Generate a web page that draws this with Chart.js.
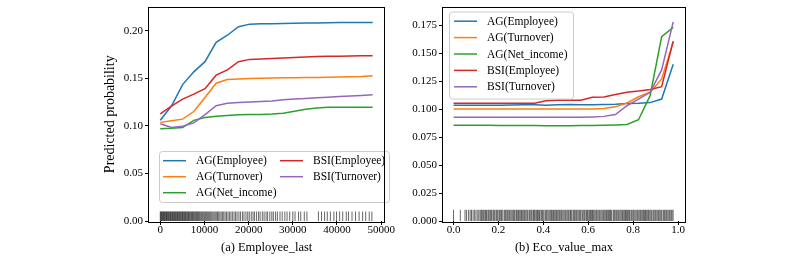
<!DOCTYPE html>
<html><head><meta charset="utf-8">
<script src="https://cdn.jsdelivr.net/npm/chart.js@4"></script>
<style>
html,body{margin:0;padding:0;background:#fff;width:789px;height:258px;overflow:hidden}
canvas{position:absolute;top:0}
#a{left:0}
#b{left:395px}
</style></head><body>
<canvas id="a" width="395" height="258"></canvas>
<canvas id="b" width="394" height="258"></canvas>
<script>
// ---------- Panel (a): Employee_last ----------
const empGrid = [0, 2530, 5060, 7590, 10120, 12650, 15180, 17710, 20240, 22770, 25300, 27830, 30360, 32890, 35420, 37950, 40480, 43010, 45540, 48070];
const empAGEmployee  = [0.106, 0.121, 0.1436, 0.157, 0.1677, 0.188, 0.1955, 0.2045, 0.2072, 0.2075, 0.2076, 0.2078, 0.208, 0.2083, 0.2085, 0.2087, 0.2088, 0.2089, 0.209, 0.209];
const empAGTurnover  = [0.1038, 0.1055, 0.1072, 0.1152, 0.130, 0.145, 0.149, 0.1495, 0.150, 0.1502, 0.1505, 0.1507, 0.1508, 0.151, 0.151, 0.1512, 0.1515, 0.1518, 0.1522, 0.1529];
const empAGNetIncome = [0.097, 0.0975, 0.0983, 0.1059, 0.109, 0.1102, 0.111, 0.1117, 0.112, 0.1122, 0.1127, 0.1135, 0.1155, 0.1175, 0.119, 0.1196, 0.1197, 0.1197, 0.1197, 0.1197];
const empBSIEmployee = [0.1127, 0.121, 0.1282, 0.1335, 0.1392, 0.1535, 0.159, 0.1677, 0.1701, 0.1705, 0.171, 0.1715, 0.172, 0.1725, 0.173, 0.1733, 0.1735, 0.1737, 0.1738, 0.1739];
const empBSITurnover = [0.1024, 0.0985, 0.0998, 0.1033, 0.112, 0.1213, 0.124, 0.1248, 0.1253, 0.1258, 0.1263, 0.1275, 0.1283, 0.129, 0.1296, 0.1303, 0.131, 0.1316, 0.1322, 0.133];
const empRug = [0, 120, 260, 410, 540, 700, 830, 980, 1130, 1290, 1420, 1580, 1720, 1890, 2030, 2190, 2340, 2480, 2650, 2800, 2960, 3110, 3270, 3420, 3580, 3740, 3890, 4060, 4220, 4380, 4530, 4700, 4870, 5030, 5190, 5360, 5520, 5700, 5860, 6040, 6210, 6390, 6560, 6740, 6920, 7100, 7290, 7470, 7660, 7850, 8030, 8230, 8420, 8620, 8820, 9010, 9230, 9430, 9640, 9860, 10080, 10290, 10520, 10740, 10970, 11200, 11430, 11680, 11920, 12170, 12430, 12680, 12950, 13220, 13500, 13780, 14070, 14370, 14680, 15000, 15330, 15640, 15990, 16320, 16700, 17050, 17380, 17800, 18150, 18600, 18950, 19400, 19800, 20150, 20600, 21000, 21350, 21800, 22250, 22600, 23100, 23500, 23950, 24300, 24800, 25250, 25600, 26100, 26500, 27100, 27600, 28200, 28700, 29300, 30000, 30500, 31300, 31800, 32600, 33200, 35800, 36500, 37200, 37800, 38500, 39300, 39900, 40600, 41300, 42100, 42600, 43400, 44200, 45000, 45800, 46500, 47300, 47900];
const empXTicks = [0, 10000, 20000, 30000, 40000, 50000];
const empYTicks = [0, 0.05, 0.10, 0.15, 0.20];

// ---------- Panel (b): Eco_value_max ----------
const ecoGrid = [0, 0.0515, 0.103, 0.1545, 0.206, 0.2575, 0.309, 0.3605, 0.412, 0.4635, 0.515, 0.5665, 0.618, 0.6695, 0.721, 0.7725, 0.824, 0.8755, 0.927, 0.9785];
const ecoAGEmployee  = [0.1035, 0.1035, 0.1035, 0.1035, 0.1035, 0.1036, 0.1038, 0.104, 0.1035, 0.1038, 0.1042, 0.104, 0.1038, 0.1042, 0.1044, 0.105, 0.1052, 0.1058, 0.109, 0.140];
const ecoAGTurnover  = [0.100, 0.100, 0.100, 0.100, 0.100, 0.100, 0.100, 0.100, 0.100, 0.100, 0.100, 0.1, 0.1002, 0.1005, 0.102, 0.1055, 0.111, 0.115, 0.127, 0.160];
const ecoAGNetIncome = [0.0855, 0.0855, 0.0855, 0.0855, 0.0854, 0.0854, 0.0853, 0.0853, 0.0852, 0.0852, 0.0852, 0.0853, 0.0854, 0.0856, 0.0858, 0.0862, 0.0905, 0.112, 0.1648, 0.173];
const ecoBSIEmployee = [0.1053, 0.1053, 0.1053, 0.1053, 0.1053, 0.1053, 0.1053, 0.1053, 0.1075, 0.108, 0.108, 0.108, 0.1105, 0.1108, 0.113, 0.115, 0.1161, 0.1175, 0.120, 0.1607];
const ecoBSITurnover = [0.0927, 0.0927, 0.0927, 0.0927, 0.0927, 0.0927, 0.0927, 0.0927, 0.0927, 0.0927, 0.0927, 0.0927, 0.093, 0.0935, 0.0952, 0.103, 0.109, 0.115, 0.135, 0.178];
const ecoRug = [0.000, 0.030, 0.051, 0.058, 0.067, 0.074, 0.080, 0.087, 0.094, 0.100, 0.108, 0.113, 0.119, 0.124, 0.128, 0.133, 0.139, 0.143, 0.147, 0.153, 0.157, 0.162, 0.166, 0.170, 0.176, 0.180, 0.184, 0.190, 0.194, 0.198, 0.204, 0.208, 0.213, 0.217, 0.225, 0.229, 0.233, 0.238, 0.242, 0.247, 0.251, 0.256, 0.261, 0.266, 0.270, 0.274, 0.280, 0.284, 0.289, 0.293, 0.299, 0.303, 0.308, 0.313, 0.317, 0.322, 0.327, 0.331, 0.337, 0.341, 0.346, 0.350, 0.356, 0.360, 0.364, 0.370, 0.374, 0.379, 0.383, 0.389, 0.393, 0.397, 0.402, 0.408, 0.412, 0.416, 0.421, 0.426, 0.431, 0.436, 0.440, 0.445, 0.449, 0.455, 0.459, 0.464, 0.469, 0.473, 0.478, 0.482, 0.487, 0.492, 0.497, 0.501, 0.506, 0.511, 0.515, 0.521, 0.525, 0.532, 0.536, 0.540, 0.545, 0.549, 0.554, 0.559, 0.563, 0.567, 0.573, 0.577, 0.582, 0.586, 0.592, 0.596, 0.600, 0.606, 0.610, 0.615, 0.619, 0.624, 0.629, 0.634, 0.638, 0.643, 0.648, 0.652, 0.657, 0.662, 0.667, 0.671, 0.676, 0.681, 0.685, 0.690, 0.695, 0.699, 0.704, 0.711, 0.715, 0.719, 0.724, 0.728, 0.733, 0.737, 0.742, 0.747, 0.752, 0.756, 0.761, 0.766, 0.770, 0.775, 0.780, 0.784, 0.790, 0.794, 0.799, 0.803, 0.808, 0.813, 0.818, 0.822, 0.827, 0.832, 0.836, 0.841, 0.846, 0.851, 0.855, 0.860, 0.865, 0.869, 0.874, 0.879, 0.883, 0.889, 0.893, 0.898, 0.902, 0.907, 0.912, 0.916, 0.921, 0.926, 0.933, 0.937, 0.941, 0.946, 0.950, 0.955, 0.960, 0.964, 0.969, 0.973, 0.978];
const ecoXTicks = [0, 0.2, 0.4, 0.6, 0.8, 1.0];
const ecoYTicks = [0, 0.025, 0.05, 0.075, 0.10, 0.125, 0.15, 0.175];

const seriesNames = ['AG(Employee)', 'AG(Turnover)', 'AG(Net_income)', 'BSI(Employee)', 'BSI(Turnover)'];
const seriesColors = ['#1f77b4', '#ff7f0e', '#2ca02c', '#d62728', '#9467bd'];
const rugHeight = 0.01;

const FONT = "'Liberation Serif', 'Times New Roman', serif";

function lineSets(grid, arrays) {
  return arrays.map((vals, i) => ({
    label: seriesNames[i],
    data: grid.map((x, j) => ({x: x, y: vals[j]})),
    borderColor: seriesColors[i],
    backgroundColor: seriesColors[i],
    borderWidth: 1.5,
    pointRadius: 0,
    tension: 0,
    fill: false,
    order: 4 - i
  }));
}
function rugSet(values) {
  return {
    label: 'rug',
    data: values.map(v => ({x: v, y: rugHeight / 2})),
    showLine: false,
    pointStyle: 'line',
    pointRotation: 90,
    radius: (ctx) => {
      const s = ctx.chart.scales && ctx.chart.scales.y;
      if (!s || !isFinite(s.getPixelForValue(0))) return 5;
      return Math.abs(s.getPixelForValue(0) - s.getPixelForValue(rugHeight)) / 2;
    },
    pointBorderColor: 'rgba(0,0,0,0.6)',
    pointBorderWidth: 1,
    pointBackgroundColor: 'rgba(0,0,0,0)',
    order: 10
  };
}

const framePlugin = {
  id: 'frame',
  afterDatasetsDraw(chart, args, opts) {
    const {ctx, chartArea: ca} = chart;
    ctx.save();
    const L = opts.legend;
    const bx = ca.left + L.dx, by = L.fromBottom ? ca.bottom - L.dy - L.h : ca.top + L.dy;
    ctx.beginPath();
    if (ctx.roundRect) ctx.roundRect(bx + 0.5, by + 0.5, L.w, L.h, 3); else ctx.rect(bx + 0.5, by + 0.5, L.w, L.h);
    ctx.fillStyle = 'rgba(255,255,255,0.8)';
    ctx.fill();
    ctx.strokeStyle = '#cccccc';
    ctx.lineWidth = 1;
    ctx.stroke();
    ctx.font = L.fontSize + 'px ' + FONT;
    ctx.textBaseline = 'middle';
    ctx.textAlign = 'left';
    L.cols.forEach((col, ci) => {
      col.forEach((di, ri) => {
        const ds = chart.data.datasets[di];
        const y = by + L.row0 + ri * L.rowStep;
        const x0 = bx + L.colX[ci];
        ctx.strokeStyle = ds.borderColor;
        ctx.lineWidth = 1.5;
        ctx.beginPath();
        ctx.moveTo(x0, y);
        ctx.lineTo(x0 + 23, y);
        ctx.stroke();
        ctx.fillStyle = '#000';
        ctx.fillText(ds.label, x0 + 33, y + 0.5);
      });
    });
    ctx.strokeStyle = '#000';
    ctx.lineWidth = 1;
    ctx.strokeRect(Math.round(ca.left) - 0.5, Math.round(ca.top) - 0.5, Math.round(ca.width) + 1, Math.round(ca.height) + 1);
    ctx.restore();
  }
};

function makeChart(id, cfg) {
  return new Chart(document.getElementById(id), {
    type: 'line',
    data: {datasets: lineSets(cfg.grid, cfg.series).concat([rugSet(cfg.rug)])},
    options: {
      responsive: false,
      animation: false,
      devicePixelRatio: 1,
      layout: {padding: cfg.padding},
      plugins: {legend: {display: false}, tooltip: {enabled: false}, frame: {legend: cfg.legend}},
      scales: {
        x: {
          type: 'linear', min: cfg.xmin, max: cfg.xmax,
          afterBuildTicks: s => { s.ticks = cfg.xTicks.map(v => ({value: v})); },
          afterFit: s => { s.height = 37; },
          grid: {drawOnChartArea: false, drawTicks: true, tickLength: 4, color: '#000', lineWidth: 1},
          border: {display: false},
          ticks: {color: '#000', padding: 0, maxRotation: 0, autoSkip: false,
                  font: {family: FONT, size: 11, lineHeight: 1}, callback: cfg.xFmt},
          title: {display: true, text: cfg.xTitle, color: '#000',
                  font: {family: FONT, size: 12.5, lineHeight: 1.2}, padding: {top: 0, bottom: 2.5}}
        },
        y: {
          type: 'linear', min: 0, max: cfg.ymax,
          afterBuildTicks: s => { s.ticks = cfg.yTicks.map(v => ({value: v})); },
          afterFit: s => { s.width = cfg.yWidth; },
          grid: {drawOnChartArea: false, drawTicks: true, tickLength: 4, color: '#000', lineWidth: 1},
          border: {display: false},
          ticks: {color: '#000', padding: 2, autoSkip: false,
                  font: {family: FONT, size: 11, lineHeight: 1}, callback: cfg.yFmt},
          title: {display: !!cfg.yTitle, text: cfg.yTitle || '', color: '#000',
                  font: {family: FONT, size: 14, lineHeight: 1.2}, padding: {top: 101.6, bottom: 0}}
        }
      }
    },
    plugins: [framePlugin]
  });
}

makeChart('a', {
  grid: empGrid,
  series: [empAGEmployee, empAGTurnover, empAGNetIncome, empBSIEmployee, empBSITurnover],
  rug: empRug,
  xmin: -2550, xmax: 50700, ymax: 0.2247,
  xTicks: empXTicks, yTicks: empYTicks,
  xFmt: v => String(v), yFmt: v => v.toFixed(2),
  xTitle: '(a) Employee_last', yTitle: 'Predicted probability',
  yWidth: 149,
  padding: {left: 0, right: 4, top: 3, bottom: 0},
  legend: {dx: 10, dy: 19, fromBottom: true, w: 230, h: 51, row0: 9.7, rowStep: 16,
           cols: [[0, 1, 2], [3, 4]], colX: [4, 121], fontSize: 11.5}
});

makeChart('b', {
  grid: ecoGrid,
  series: [ecoAGEmployee, ecoAGTurnover, ecoAGNetIncome, ecoBSIEmployee, ecoBSITurnover],
  rug: ecoRug,
  xmin: -0.047, xmax: 1.031, ymax: 0.1908,
  xTicks: ecoXTicks, yTicks: ecoYTicks,
  xFmt: v => v.toFixed(1), yFmt: v => v.toFixed(3),
  xTitle: '(b) Eco_value_max', yTitle: '',
  yWidth: 48,
  padding: {left: 0, right: 104, top: 3, bottom: 0},
  legend: {dx: 6, dy: 4, fromBottom: false, w: 124, h: 87, row0: 9.7, rowStep: 16.4,
           cols: [[0, 1, 2, 3, 4]], colX: [5], fontSize: 11.5}
});
</script>
</body></html>
